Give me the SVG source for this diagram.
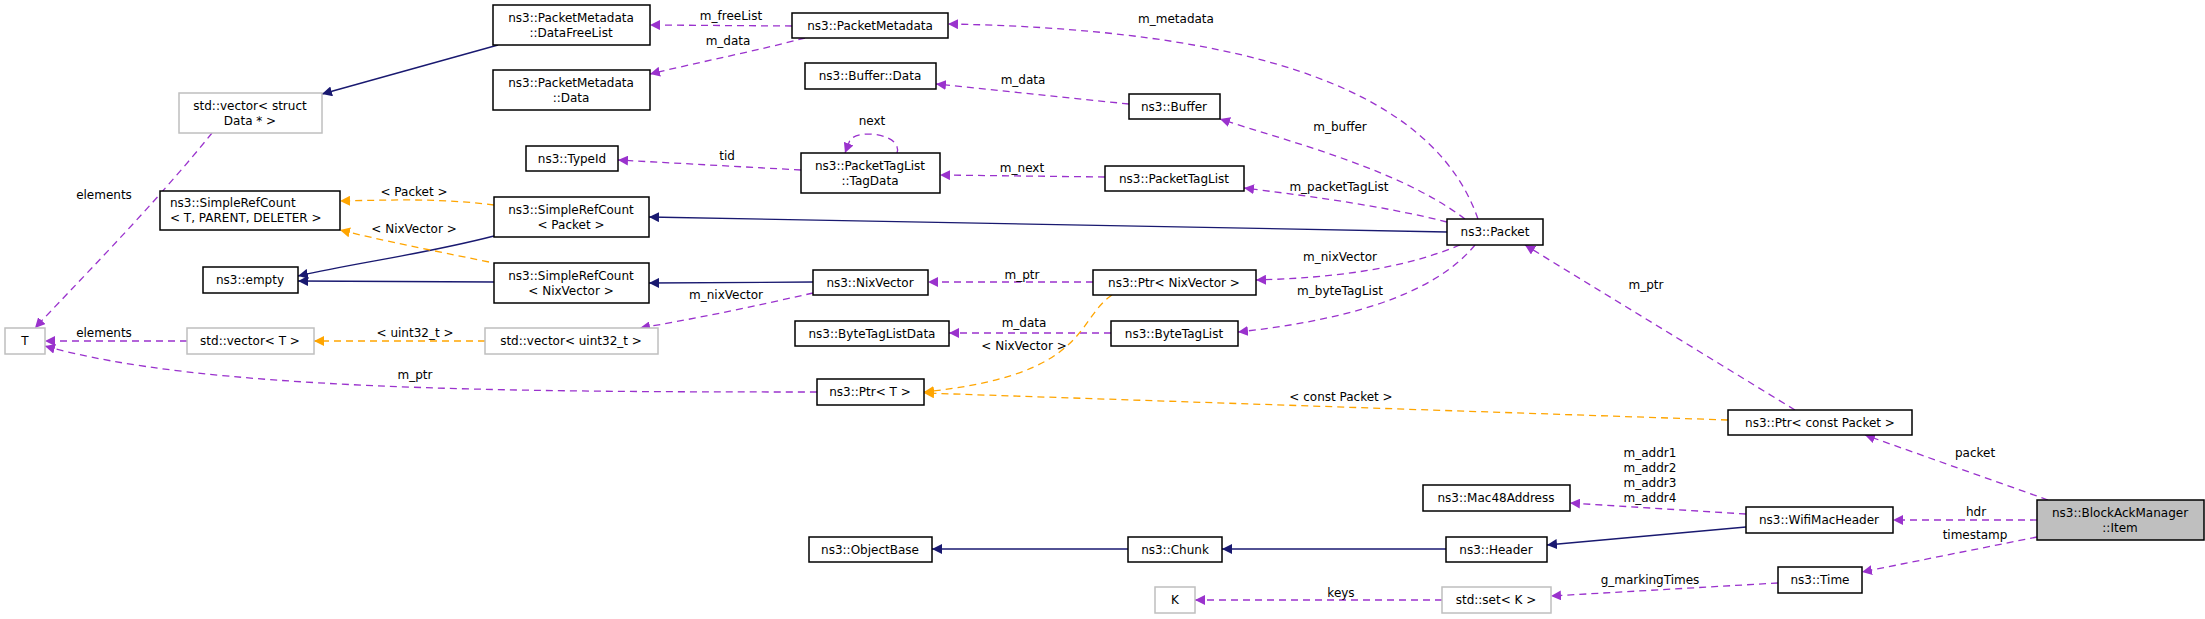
<svg xmlns="http://www.w3.org/2000/svg" width="2205" height="619" viewBox="0 0 2205 619">
<style>
.n rect{fill:#fff;stroke:#000;stroke-width:1.5}
.g rect{fill:#fff;stroke:#bfbfbf;stroke-width:1.5}
.h rect{fill:#bfbfbf;stroke:#000;stroke-width:1.5}
text{font-family:"DejaVu Sans","Liberation Sans",sans-serif;font-size:12px;text-anchor:middle;fill:#000}
.e path{fill:none;stroke-width:1.3}
.p{stroke:#9a32cd;stroke-dasharray:7,5;marker-end:url(#mp)}
.b{stroke:#191970;marker-end:url(#mb)}
.o{stroke:#ffa500;stroke-dasharray:7,5;marker-end:url(#mo)}
</style>
<defs>
<marker id="mp" viewBox="0 0 10 10" refX="10" refY="5" markerWidth="10" markerHeight="10" markerUnits="userSpaceOnUse" orient="auto"><path d="M0,0L10,5L0,10z" fill="#9a32cd"/></marker>
<marker id="mb" viewBox="0 0 10 10" refX="10" refY="5" markerWidth="10" markerHeight="10" markerUnits="userSpaceOnUse" orient="auto"><path d="M0,0L10,5L0,10z" fill="#191970"/></marker>
<marker id="mo" viewBox="0 0 10 10" refX="10" refY="5" markerWidth="10" markerHeight="10" markerUnits="userSpaceOnUse" orient="auto"><path d="M0,0L10,5L0,10z" fill="#ffa500"/></marker>
</defs>
<rect width="2205" height="619" fill="#fff"/>
<g id="edges" class="e">
<path class="p" d="M792,26 L650,25"/>
<path class="p" d="M805,38 C760,50 700,62 650,74"/>
<path class="b" d="M498,45 L322,94"/>
<path class="p" d="M212,133 C150,210 70,290 35,328"/>
<path class="p" d="M1478,219 C1440,110 1300,30 948,24"/>
<path class="p" d="M1129,104 L936,84"/>
<path class="p" d="M1465,219 C1400,170 1300,145 1220,119"/>
<path class="p" d="M801,170 L618,160"/>
<path class="p" d="M897,153 C903,135 860,128 850,140 L845,153"/>
<path class="p" d="M1105,177 L940,175"/>
<path class="p" d="M1447,222 C1380,205 1300,195 1244,188"/>
<path class="b" d="M1447,232 L649,217"/>
<path class="o" d="M494,205 C440,198 390,200 340,201"/>
<path class="b" d="M494,236 C420,255 360,262 298,276"/>
<path class="o" d="M489,262 C430,250 380,240 340,230"/>
<path class="b" d="M494,282 L298,281"/>
<path class="b" d="M813,282 L649,283"/>
<path class="p" d="M1093,282 L928,282"/>
<path class="p" d="M1460,245 C1400,270 1330,278 1256,280"/>
<path class="p" d="M813,293 C760,305 700,318 640,328"/>
<path class="p" d="M1475,245 C1430,300 1330,322 1238,332"/>
<path class="p" d="M1111,333 L949,333"/>
<path class="o" d="M1112,295 C1075,320 1090,375 924,392"/>
<path class="o" d="M485,341 L314,341"/>
<path class="p" d="M187,341 L45,341"/>
<path class="p" d="M817,392 C500,392 200,390 45,346"/>
<path class="o" d="M1728,420 L924,393"/>
<path class="p" d="M1795,410 L1525,245"/>
<path class="p" d="M2048,500 L1865,435"/>
<path class="p" d="M2037,520 L1893,520"/>
<path class="p" d="M1746,514 L1570,503"/>
<path class="b" d="M1746,527 L1547,545"/>
<path class="b" d="M1446,549 L1222,549"/>
<path class="b" d="M1128,549 L932,549"/>
<path class="p" d="M2037,537 L1862,572"/>
<path class="p" d="M1778,583 L1551,596"/>
<path class="p" d="M1442,600 L1195,600"/>
<text x="731" y="20">m_freeList</text>
<text x="728" y="45">m_data</text>
<text x="104" y="199">elements</text>
<text x="1176" y="23">m_metadata</text>
<text x="1023" y="84">m_data</text>
<text x="1340" y="131">m_buffer</text>
<text x="872" y="125">next</text>
<text x="727" y="160">tid</text>
<text x="1022" y="172">m_next</text>
<text x="1339" y="191">m_packetTagList</text>
<text x="414" y="196">&lt; Packet &gt;</text>
<text x="414" y="233">&lt; NixVector &gt;</text>
<text x="1340" y="261">m_nixVector</text>
<text x="1022" y="279">m_ptr</text>
<text x="1340" y="295">m_byteTagList</text>
<text x="726" y="299">m_nixVector</text>
<text x="1024" y="327">m_data</text>
<text x="1024" y="350">&lt; NixVector &gt;</text>
<text x="104" y="337">elements</text>
<text x="415" y="337">&lt; uint32_t &gt;</text>
<text x="415" y="379">m_ptr</text>
<text x="1646" y="289">m_ptr</text>
<text x="1341" y="401">&lt; const Packet &gt;</text>
<text x="1975" y="457">packet</text>
<text x="1650" y="457">m_addr1</text>
<text x="1650" y="472">m_addr2</text>
<text x="1650" y="487">m_addr3</text>
<text x="1650" y="502">m_addr4</text>
<text x="1976" y="516">hdr</text>
<text x="1975" y="539">timestamp</text>
<text x="1650" y="584">g_markingTimes</text>
<text x="1341" y="597">keys</text>
</g>
<g id="n1" class="n"><rect x="493" y="5" width="157" height="40"/><text x="571" y="22">ns3::PacketMetadata</text><text x="571" y="37">::DataFreeList</text></g>
<g id="n2" class="n"><rect x="493" y="70" width="157" height="40"/><text x="571" y="87">ns3::PacketMetadata</text><text x="571" y="102">::Data</text></g>
<g id="n3" class="g"><rect x="179" y="93" width="143" height="40"/><text x="250" y="110">std::vector&lt; struct</text><text x="250" y="125">Data * &gt;</text></g>
<g id="n4" class="n"><rect x="526" y="146" width="92" height="25"/><text x="572" y="163">ns3::TypeId</text></g>
<g id="n5" class="n"><rect x="160" y="191" width="180" height="39"/><text x="250" y="207" style="text-anchor:start" dx="-80">ns3::SimpleRefCount</text><text x="250" y="222" style="text-anchor:start" dx="-80">&lt; T, PARENT, DELETER &gt;</text></g>
<g id="n6" class="n"><rect x="494" y="197" width="155" height="40"/><text x="571" y="214">ns3::SimpleRefCount</text><text x="571" y="229">&lt; Packet &gt;</text></g>
<g id="n7" class="n"><rect x="203" y="267" width="95" height="26"/><text x="250" y="284">ns3::empty</text></g>
<g id="n8" class="n"><rect x="494" y="263" width="155" height="40"/><text x="571" y="280">ns3::SimpleRefCount</text><text x="571" y="295">&lt; NixVector &gt;</text></g>
<g id="n9" class="g"><rect x="5" y="328" width="40" height="26"/><text x="25" y="345">T</text></g>
<g id="n10" class="g"><rect x="187" y="328" width="127" height="26"/><text x="250" y="345">std::vector&lt; T &gt;</text></g>
<g id="n11" class="g"><rect x="485" y="328" width="173" height="26"/><text x="571" y="345">std::vector&lt; uint32_t &gt;</text></g>
<g id="n12" class="n"><rect x="792" y="13" width="156" height="25"/><text x="870" y="30">ns3::PacketMetadata</text></g>
<g id="n13" class="n"><rect x="805" y="63" width="131" height="26"/><text x="870" y="80">ns3::Buffer::Data</text></g>
<g id="n14" class="n"><rect x="1129" y="94" width="91" height="25"/><text x="1174" y="111">ns3::Buffer</text></g>
<g id="n15" class="n"><rect x="801" y="153" width="139" height="40"/><text x="870" y="170">ns3::PacketTagList</text><text x="870" y="185">::TagData</text></g>
<g id="n16" class="n"><rect x="1105" y="166" width="139" height="25"/><text x="1174" y="183">ns3::PacketTagList</text></g>
<g id="n17" class="n"><rect x="1447" y="219" width="96" height="26"/><text x="1495" y="236">ns3::Packet</text></g>
<g id="n18" class="n"><rect x="813" y="270" width="115" height="25"/><text x="870" y="287">ns3::NixVector</text></g>
<g id="n19" class="n"><rect x="1093" y="270" width="163" height="25"/><text x="1174" y="287">ns3::Ptr&lt; NixVector &gt;</text></g>
<g id="n20" class="n"><rect x="795" y="321" width="154" height="25"/><text x="872" y="338">ns3::ByteTagListData</text></g>
<g id="n21" class="n"><rect x="1111" y="321" width="127" height="25"/><text x="1174" y="338">ns3::ByteTagList</text></g>
<g id="n22" class="n"><rect x="817" y="379" width="107" height="26"/><text x="870" y="396">ns3::Ptr&lt; T &gt;</text></g>
<g id="n23" class="n"><rect x="1728" y="410" width="184" height="25"/><text x="1820" y="427">ns3::Ptr&lt; const Packet &gt;</text></g>
<g id="n24" class="n"><rect x="1423" y="485" width="147" height="26"/><text x="1496" y="502">ns3::Mac48Address</text></g>
<g id="n25" class="n"><rect x="1746" y="507" width="147" height="26"/><text x="1819" y="524">ns3::WifiMacHeader</text></g>
<g id="n26" class="h"><rect x="2037" y="500" width="167" height="40"/><text x="2120" y="517">ns3::BlockAckManager</text><text x="2120" y="532">::Item</text></g>
<g id="n27" class="n"><rect x="809" y="537" width="123" height="25"/><text x="870" y="554">ns3::ObjectBase</text></g>
<g id="n28" class="n"><rect x="1128" y="537" width="94" height="25"/><text x="1175" y="554">ns3::Chunk</text></g>
<g id="n29" class="n"><rect x="1446" y="537" width="101" height="25"/><text x="1496" y="554">ns3::Header</text></g>
<g id="n30" class="n"><rect x="1778" y="567" width="84" height="26"/><text x="1820" y="584">ns3::Time</text></g>
<g id="n31" class="g"><rect x="1442" y="587" width="109" height="26"/><text x="1496" y="604">std::set&lt; K &gt;</text></g>
<g id="n32" class="g"><rect x="1155" y="587" width="40" height="26"/><text x="1175" y="604">K</text></g>
</svg>
